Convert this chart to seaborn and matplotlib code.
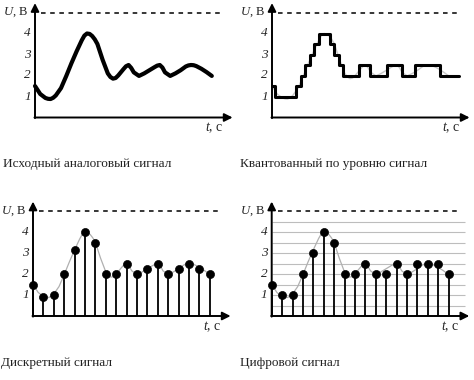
import numpy as np
import matplotlib
matplotlib.use('Agg')
import matplotlib.pyplot as plt
import seaborn as sns

sns.set_style('white')
plt.rcParams['font.family'] = ['Liberation Serif', 'DejaVu Serif']
plt.rcParams['mathtext.fontset'] = 'custom'
plt.rcParams['mathtext.rm'] = 'Liberation Serif'
plt.rcParams['mathtext.it'] = 'Liberation Serif:italic'

# analog signal
t_analog = [0, 0.5, 1, 1.25, 1.5, 1.75, 2, 2.5, 3, 3.5, 4, 4.5, 4.75, 5, 5.25, 5.5,
            5.75, 6, 6.5, 7, 7.25, 7.5, 7.75, 8, 8.5, 8.75, 9, 9.25, 9.5, 10, 10.5,
            11, 11.5, 11.75, 12, 12.25, 12.5, 13, 13.5, 14, 14.5, 14.75, 15, 15.25,
            15.5, 16, 16.5, 17]
u_analog = [1.5, 1.12, 0.93, 0.89, 0.88, 0.94, 1.05, 1.4, 1.97, 2.58, 3.15, 3.68,
            3.9, 4.0, 3.98, 3.88, 3.72, 3.5, 2.75, 2.1, 1.93, 1.85, 1.88, 2.0, 2.3,
            2.44, 2.5, 2.36, 2.15, 1.98, 2.1, 2.25, 2.4, 2.47, 2.5, 2.38, 2.15, 1.98,
            2.1, 2.25, 2.43, 2.48, 2.5, 2.49, 2.45, 2.32, 2.16, 1.98]

# level-quantized signal (step edges and levels)
q_edges = [0, 0.32, 2.34, 2.79, 3.2, 3.62, 4.07, 4.55, 5.54, 6.0, 6.41, 6.83, 8.4,
           9.46, 11.06, 12.5, 13.78, 16.19, 17.95]
q_levels = [1.5, 1.0, 1.5, 2.0, 2.5, 3.0, 3.5, 4.0, 3.5, 3.0, 2.5, 2.0, 2.5, 2.0,
            2.5, 2.0, 2.5, 2.0]

# sampled signals
t_samples = list(range(18))
u_discrete = [1.5, 0.9, 1.0, 2.0, 3.15, 4.0, 3.5, 2.0, 2.0, 2.5, 2.0, 2.25, 2.5, 2.0,
              2.25, 2.5, 2.25, 2.0]
u_digital = [1.5, 1.0, 1.0, 2.0, 3.0, 4.0, 3.5, 2.0, 2.0, 2.5, 2.0, 2.0, 2.5, 2.0,
             2.5, 2.5, 2.5, 2.0]
grid_levels = [0.5, 1, 1.5, 2, 2.5, 3, 3.5, 4, 4.5]
y_ticks = [1, 2, 3, 4]

titles = ['Исходный аналоговый сигнал', 'Квантованный по уровню сигнал',
          'Дискретный сигнал', 'Цифровой сигнал']
origins = [(35, 117.5), (272, 117.5), (33, 316), (271.7, 316)]

W, H = 474, 380
SX, SY = 10.4, 21.0

fig = plt.figure(figsize=(W / 100, H / 100), dpi=100)


def make_panel(i):
    ox, oy = origins[i]
    ax = fig.add_axes([0, 0, 1, 1])
    ax.set_xlim(-ox / SX, (W - ox) / SX)
    ax.set_ylim(-(H - oy) / SY, oy / SY)
    ax.axis('off')
    ax.patch.set_alpha(0)
    arrow = dict(arrowstyle='-|>', lw=1.4, color='k', mutation_scale=12,
                 shrinkA=0, shrinkB=0)
    ax.annotate('', xy=(19.0, 0), xytext=(-0.05, 0), arrowprops=arrow)
    ax.annotate('', xy=(0, 5.45), xytext=(0, -0.03), arrowprops=arrow)
    ax.plot([0.6, 18.1], [5, 5], color='k', lw=1.1, ls=(0, (3, 3)))
    for v in y_ticks:
        ax.text(-0.4, v, str(v), ha='right', va='center', fontsize=9.5,
                fontstyle='italic', color='#222222')
    ax.text(-0.6, 5.0, '$U$, В', ha='right', va='center', fontsize=9.2)
    ax.text(18.1, -0.5, '$t$, с', ha='right', va='center', fontsize=10)
    ax.text(-3.05, -2.22, titles[i], ha='left', va='center', fontsize=9.5,
            color='#222222')
    return ax


# 1: analog
ax1 = make_panel(0)
sns.lineplot(x=t_analog, y=u_analog, ax=ax1, color='k', lw=3.0,
             solid_joinstyle='round', solid_capstyle='round')

# 2: quantized
ax2 = make_panel(1)
sns.lineplot(x=t_analog, y=u_analog, ax=ax2, color='#c8c8c8', lw=1.0)
sns.lineplot(x=q_edges, y=q_levels + [q_levels[-1]], ax=ax2, color='k', lw=2.2,
             drawstyle='steps-post')

# 3: discrete
ax3 = make_panel(2)
sns.lineplot(x=t_analog, y=u_analog, ax=ax3, color='#b0b0b0', lw=0.9)
ax3.vlines(t_samples, 0, u_discrete, color='k', lw=1.3)
sns.scatterplot(x=t_samples, y=u_discrete, ax=ax3, color='k', s=34,
                edgecolor='k', zorder=3)

# 4: digital
ax4 = make_panel(3)
ax4.hlines(grid_levels, 0, 18.6, color='#bdbdbd', lw=0.8, zorder=0)
sns.lineplot(x=t_analog, y=u_analog, ax=ax4, color='#b0b0b0', lw=0.9)
ax4.vlines(t_samples, 0, u_digital, color='k', lw=1.3)
sns.scatterplot(x=t_samples, y=u_digital, ax=ax4, color='k', s=34,
                edgecolor='k', zorder=3)

fig.savefig('out.png', dpi=100, facecolor='white')
